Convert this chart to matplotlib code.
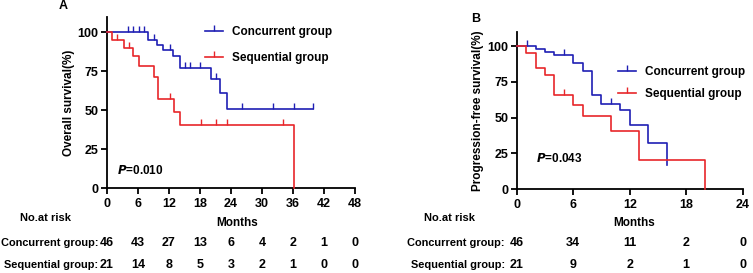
import numpy as np
import matplotlib
matplotlib.use("Agg")
import matplotlib.pyplot as plt
from matplotlib.lines import Line2D
from matplotlib.transforms import blended_transform_factory, offset_copy

plt.rcParams['font.family'] = ['Liberation Sans', 'DejaVu Sans']
plt.rcParams['font.weight'] = 'bold'

# ---------------- data ----------------
A_conc_t = [0, 8.0, 9.6, 10.9, 12.8, 14.1, 20.1, 21.9, 23.2, 39.9]
A_conc_s = [100, 95.1, 91.9, 88.7, 84.8, 76.9, 69.9, 61.3, 50.9, 50.9]
A_conc_cens = [4.1, 5.1, 6.1, 7.1, 9.0, 12.1, 15.1, 16.1, 18.0, 21.1, 26.1, 32.1, 36.1, 39.9]
A_seq_t = [0, 0.9, 3.2, 5.1, 6.1, 9.1, 9.9, 13.0, 14.1, 36.1]
A_seq_s = [100, 95.1, 90.2, 84.8, 78.4, 71.2, 57.3, 49.1, 40.6, 0]
A_seq_cens = [2.0, 4.3, 12.2, 18.2, 21.1, 23.2, 34.1]

B_conc_t = [0, 2.0, 3.0, 4.0, 6.0, 7.0, 8.0, 9.0, 11.0, 12.0, 13.9, 16.0]
B_conc_s = [100, 98.1, 95.8, 93.4, 88.3, 82.4, 66.0, 59.5, 55.5, 45.0, 32.1, 16.9]
B_conc_cens = [1.1, 5.0, 10.0]
B_seq_t = [0, 1.0, 2.0, 3.0, 4.0, 6.0, 7.0, 10.0, 13.0, 20.0]
B_seq_s = [100, 95.3, 84.8, 79.4, 66.0, 59.0, 50.8, 40.7, 20.4, 0]
B_seq_cens = [5.0]

A_ticks = [0, 6, 12, 18, 24, 30, 36, 42, 48]
A_risk_conc = [46, 43, 27, 13, 6, 4, 2, 1, 0]
A_risk_seq = [21, 14, 8, 5, 3, 2, 1, 0, 0]
B_ticks = [0, 6, 12, 18, 24]
B_risk_conc = [46, 34, 11, 2, 0]
B_risk_seq = [21, 9, 2, 1, 0]

y_ticks = [0, 25, 50, 75, 100]
groups = ["Concurrent group", "Sequential group"]
BLUE = "#1f1fb4"
RED = "#e8262a"

W, H = 753, 273
fig = plt.figure(figsize=(W / 100, H / 100), dpi=100)


def fx(px):
    return px / W


def fy(py):
    return 1 - py / H


def step_val(t, s, x):
    idx = np.searchsorted(t, x, side='right') - 1
    return np.asarray(s)[idx]


def km(ax, t, s, cens, color):
    ax.step(t, s, where='post', color=color, lw=1.2, clip_on=False, zorder=3)
    cy = [step_val(t, s, c) for c in cens]
    ax.plot(cens, cy, ls='none', marker=2, ms=4, mew=1.0, color=color, clip_on=False, zorder=3)


def panel(rect, xmax, ticks, curves, ylabel, ylabel_x, pxy, ptext, leg_anchor, leg_spacing,
          risk_conc, risk_seq, label_off, letter, letter_xy, months_x, noat_x):
    ax = fig.add_axes(rect)
    for (t, s, c, col) in curves:
        km(ax, t, s, c, col)
    ax.set_xlim(0, xmax)
    ax.set_ylim(0, 110)
    ax.set_xticks(ticks)
    ax.set_yticks(y_ticks)
    ax.spines['top'].set_visible(False)
    ax.spines['right'].set_visible(False)
    for sp in ['left', 'bottom']:
        ax.spines[sp].set_linewidth(1.3)
    ax.tick_params(width=1.3, length=4, labelsize=9, pad=2)
    ax.tick_params(axis='x', pad=3)
    for lab in ax.get_xticklabels() + ax.get_yticklabels():
        lab.set_fontweight('bold')
    ax.set_ylabel(ylabel, fontsize=8.5, fontweight='bold')
    ax.yaxis.set_label_coords(ylabel_x, 0.5)
    ax.text(pxy[0], pxy[1], ptext, fontsize=8.5, fontweight='bold', ha='left', va='center')
    handles = [Line2D([], [], color=BLUE, lw=1.2, marker=2, ms=4, mew=1.0),
               Line2D([], [], color=RED, lw=1.2, marker=2, ms=4, mew=1.0)]
    ax.legend(handles, groups, loc='center left', bbox_to_anchor=leg_anchor, frameon=False,
              prop={'size': 8.5, 'weight': 'bold'}, handlelength=1.5, handletextpad=0.8,
              labelspacing=leg_spacing, borderpad=0, borderaxespad=0, markerfirst=True)
    tr = blended_transform_factory(ax.transData, fig.transFigure)
    for vals, yy in [(risk_conc, fy(243.5)), (risk_seq, fy(264.5))]:
        for x, v in zip(ticks, vals):
            ax.text(x, yy, str(v), transform=tr, ha='center', va='center', fontsize=9, fontweight='bold')
    trl = offset_copy(tr, fig=fig, x=-label_off, y=0, units='dots')
    ax.text(0, fy(243.5), groups[0] + ":", transform=trl, ha='right', va='center', fontsize=7.9, fontweight='bold')
    ax.text(0, fy(264.5), groups[1] + ":", transform=trl, ha='right', va='center', fontsize=7.9, fontweight='bold')
    fig.text(fx(noat_x), fy(218), "No.at risk", ha='center', va='center', fontsize=8, fontweight='bold')
    fig.text(fx(months_x), fy(223), "Months", ha='center', va='center', fontsize=8.5, fontweight='bold')
    fig.text(fx(letter_xy[0]), fy(letter_xy[1]), letter, ha='center', va='center', fontsize=9, fontweight='bold')
    return ax


# Panel A
panel([fx(107), fy(188.3), fx(355) - fx(107), fy(16.7) - fy(188.3)], 48, A_ticks,
      [(A_conc_t, A_conc_s, A_conc_cens, BLUE), (A_seq_t, A_seq_s, A_seq_cens, RED)],
      "Overall survival(%)", -0.13, (1.9, 11.7), r"$\bf{\it{P}}$=0.010",
      (0.395, 0.833), 1.17, A_risk_conc, A_risk_seq, 9, "A", (63, 6), 237.5, 45)

# Panel B
panel([fx(516.7), fy(189), fx(742.7) - fx(516.7), fy(31.7) - fy(189)], 24, B_ticks,
      [(B_conc_t, B_conc_s, B_conc_cens, BLUE), (B_seq_t, B_seq_s, B_seq_cens, RED)],
      "Progression-free survival(%)", -0.145, (2.05, 21), r"$\bf{\it{P}}$=0.043",
      (0.448, 0.672), 0.85, B_risk_conc, B_risk_seq, 12, "B", (476, 19), 634, 449)

fig.savefig("out.png", dpi=100)
